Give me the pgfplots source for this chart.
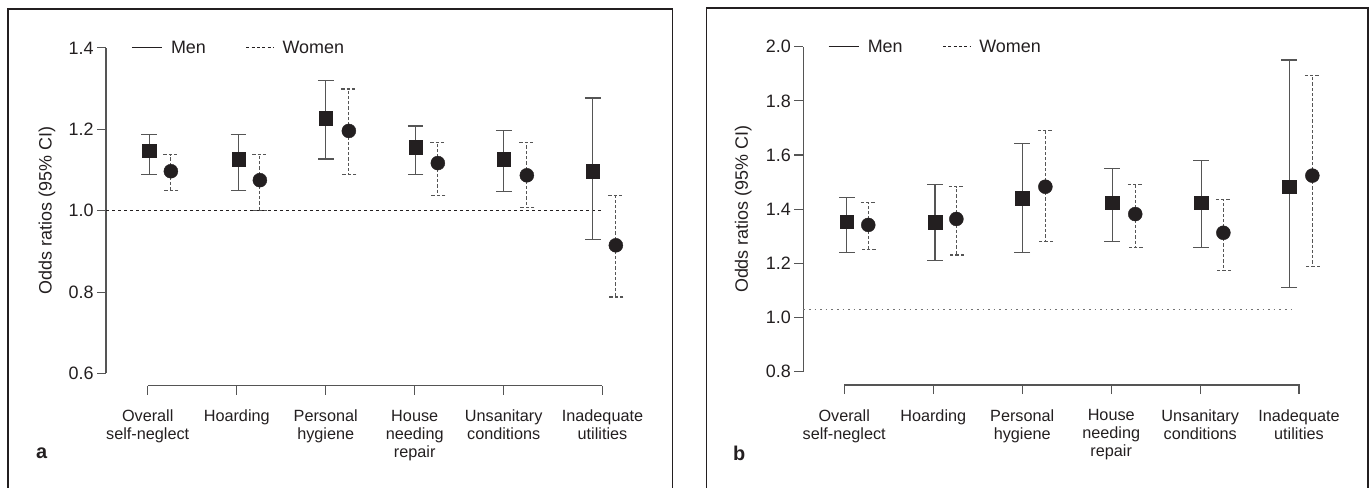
\documentclass[border=0pt]{standalone}
\usepackage{fontspec}
\setmainfont{Liberation Sans}
\usepackage{pgfplots}
\usepackage{pgfplotstable}
\pgfplotsset{compat=1.18}
\definecolor{ink}{HTML}{231F20}
\definecolor{axgray}{HTML}{555555}

% x  y  ep  em
\pgfplotstableread{
x y ep em
0.015 1.147 0.040 0.057
1.02 1.127 0.060 0.078
2.00 1.227 0.094 0.100
3.01 1.156 0.052 0.067
4.00 1.127 0.070 0.079
5.00 1.097 0.180 0.168
}\menA
\pgfplotstableread{
x y ep em
0.26 1.097 0.041 0.048
1.26 1.075 0.063 0.075
2.26 1.196 0.103 0.107
3.26 1.117 0.051 0.079
4.26 1.087 0.081 0.079
5.26 0.915 0.123 0.127
}\womenA
\pgfplotstableread{
x y ep em
0.03 1.354 0.090 0.113
1.02 1.352 0.140 0.143
2.00 1.440 0.201 0.199
3.01 1.424 0.127 0.143
4.01 1.424 0.157 0.164
5.00 1.483 0.468 0.371
}\menB
\pgfplotstableread{
x y ep em
0.27 1.342 0.083 0.090
1.26 1.364 0.119 0.133
2.26 1.483 0.209 0.202
3.27 1.382 0.110 0.122
4.26 1.313 0.123 0.138
5.26 1.524 0.369 0.334
}\womenB

\pgfplotsset{
  panel/.style={
    scale only axis, clip=false,
    axis line style={draw=none},
    tick pos=left, tick align=outside,
    major tick length=9bp,
    every tick/.style={axgray, line width=1.1bp},
    xtick={0,1,2,3,4,5.11},
    xticklabels={{Overall\\self-neglect},Hoarding,{Personal\\hygiene},{House\\needing\\repair},{Unsanitary\\conditions},{Inadequate\\utilities}},
    xticklabel style={align=center, font=\fontsize{16.3}{18}\selectfont, text=ink, yshift=-12bp},
    yticklabel style={font=\fontsize{18}{21}\selectfont, text=ink},
    yticklabel style={/pgf/number format/fixed, /pgf/number format/fixed zerofill, /pgf/number format/precision=1, /pgf/number format/assume math mode=true},
    legend style={draw=none, fill=none, font=\fontsize{18}{21}\selectfont, text=ink,
      legend columns=2, /tikz/every even column/.append style={column sep=38bp}},
    legend cell align=left,
  },
  menleg/.style={legend image code/.code={\draw[ink, line width=1bp] (0bp,0bp) -- (30bp,0bp); \path (37bp,0bp);}},
  womenleg/.style={legend image code/.code={\draw[ink, line width=1bp, dash pattern=on 3bp off 2.3bp] (0bp,0bp) -- (27bp,0bp); \path (34bp,0bp);}},
  men/.style={only marks, mark=square*, mark size=6.7bp,
    mark options={fill=ink, draw=ink, solid},
    error bars/y dir=both, error bars/y explicit,
    error bars/error bar style={axgray, line width=1.1bp, solid},
    error bars/error mark options={rotate=90, mark size=7.8bp, axgray, line width=1.1bp, solid}},
  women/.style={only marks, mark=*, mark size=7bp,
    mark options={fill=ink, draw=ink, solid},
    error bars/y dir=both, error bars/y explicit,
    error bars/error bar style={axgray, line width=1.1bp, dash pattern=on 3.3bp off 2bp},
    error bars/error mark options={rotate=90, mark size=7.5bp, axgray, line width=1.1bp, dash pattern=on 3.3bp off 2bp}},
}

\begin{document}
\begin{tikzpicture}
\useasboundingbox (0,0) rectangle (1370bp,488bp);
% frames
\draw[ink, line width=1.3bp] (8bp,0) -- (8bp,479bp) -- (672.5bp,479bp) -- (672.5bp,0);
\draw[ink, line width=1.3bp] (706.5bp,0) -- (706.5bp,480bp) -- (1368bp,480bp) -- (1368bp,0);

% panel a
\begin{axis}[panel,
  at={(106bp,102.3bp)}, anchor=south west,
  width=540.1bp, height=337.8bp,
  xmin=-0.469, xmax=5.6, ymin=0.57, ymax=1.4,
  ytick={0.6,0.8,1.0,1.2,1.4},
  legend style={at={(0.041,1)}, anchor=west},
]
\addlegendimage{menleg}
\addlegendentry{Men}
\addlegendimage{womenleg}
\addlegendentry{Women}
\draw[axgray, line width=1.1bp] (axis cs:-0.469,0.6) -- (axis cs:-0.469,1.4);
\draw[axgray, line width=1.1bp] (axis cs:0,0.57) -- (axis cs:5.11,0.57);
\addplot[ink, line width=0.9bp, dash pattern=on 3bp off 3bp, forget plot] coordinates {(-0.469,1) (5.11,1)};
\addplot[men, forget plot] table[x=x, y=y, y error plus=ep, y error minus=em] {\menA};
\addplot[women, forget plot] table[x=x, y=y, y error plus=ep, y error minus=em] {\womenA};
\node[rotate=90, font=\fontsize{18}{21}\selectfont, text=ink] at ([xshift=-59bp]axis cs:-0.469,1.0) {Odds ratios (95\% CI)};
\end{axis}

% panel b
\begin{axis}[panel,
  at={(803.3bp,103bp)}, anchor=south west,
  width=539.3bp, height=338.3bp,
  xmin=-0.46, xmax=5.6, ymin=0.751, ymax=2.0,
  ytick={0.8,1.0,1.2,1.4,1.6,1.8,2.0},
  legend style={at={(0.040,1)}, anchor=west},
]
\addlegendimage{menleg}
\addlegendentry{Men}
\addlegendimage{womenleg}
\addlegendentry{Women}
\draw[axgray, line width=1.1bp] (axis cs:-0.46,0.8) -- (axis cs:-0.46,2.0);
\draw[axgray, line width=1.1bp] (axis cs:0,0.751) -- (axis cs:5.12,0.751);
\addplot[black!55, line width=1.2bp, dash pattern=on 1.6bp off 4bp, forget plot] coordinates {(-0.46,1.029) (5.05,1.029)};
\addplot[men, forget plot] table[x=x, y=y, y error plus=ep, y error minus=em] {\menB};
\addplot[women, forget plot] table[x=x, y=y, y error plus=ep, y error minus=em] {\womenB};
\node[rotate=90, font=\fontsize{18}{21}\selectfont, text=ink] at ([xshift=-60bp]axis cs:-0.46,1.4) {Odds ratios (95\% CI)};
\end{axis}

\node[font=\bfseries\fontsize{20}{24}\selectfont, text=ink, anchor=base west, inner sep=0] at (36bp,30bp) {a};
\node[font=\bfseries\fontsize{20}{24}\selectfont, text=ink, anchor=base west, inner sep=0] at (733bp,28bp) {b};
\end{tikzpicture}
\end{document}
